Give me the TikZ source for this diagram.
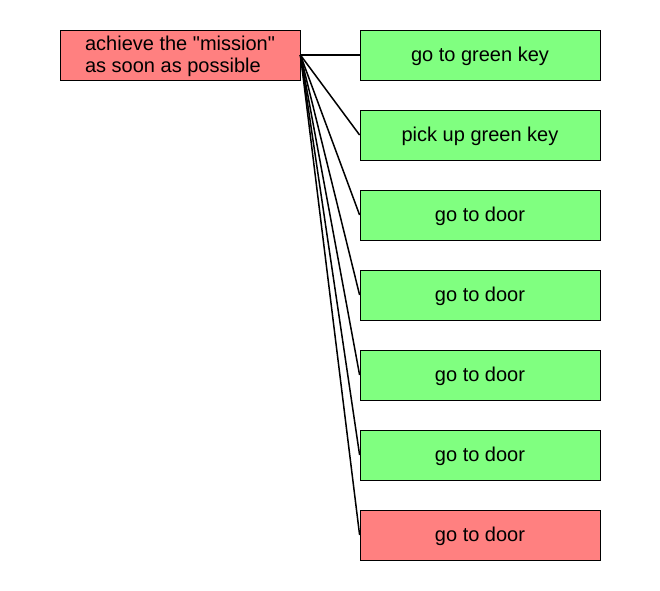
\documentclass[tikz,border=0pt]{standalone}
\usepackage{fontspec}
\setmainfont{Liberation Sans}[Ligatures=TeXOff]
\newcommand{\boxtext}[1]{\raisebox{-6.5pt}[0pt][0pt]{#1}}
\begin{document}
\begin{tikzpicture}[x=1pt,y=-1pt,
  box/.style={draw=black,line width=0.8pt,minimum width=240pt,minimum height=50pt,inner sep=0pt,
    font=\fontsize{20}{22}\selectfont,anchor=center},
  redbox/.style={box,fill={rgb,255:red,255;green,128;blue,128}},
  greenbox/.style={box,fill={rgb,255:red,128;green,255;blue,128}},
  link/.style={draw=black,line width=1.5pt}]
\useasboundingbox (0,0) rectangle (660,590);
\node[redbox] (root) at (180,55) {\raisebox{5pt}[0pt][0pt]{\begin{tabular}[t]{@{}l@{}}achieve the "mission"\\as soon as possible\end{tabular}}};
\node[greenbox] (c1) at (480,55) {\boxtext{go to green key}};
\node[greenbox] (c2) at (480,135) {\boxtext{pick up green key}};
\node[greenbox] (c3) at (480,215) {\boxtext{go to door}};
\node[greenbox] (c4) at (480,295) {\boxtext{go to door}};
\node[greenbox] (c5) at (480,375) {\boxtext{go to door}};
\node[greenbox] (c6) at (480,455) {\boxtext{go to door}};
\node[redbox] (c7) at (480,535) {\boxtext{go to door}};
\foreach \c in {c1,c2,c3,c4,c5,c6,c7}{\draw[link] (root.east) -- (\c.west);}
\end{tikzpicture}
\end{document}
